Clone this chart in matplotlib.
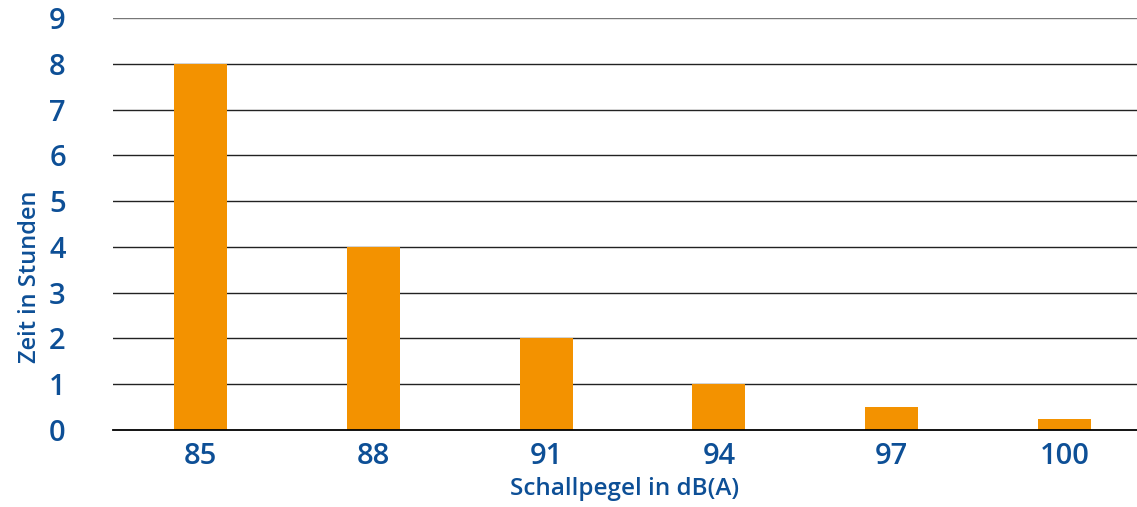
import matplotlib
matplotlib.use("Agg")
import matplotlib.pyplot as plt
import numpy as np

# Daten: zulaessige Zeit je Schallpegel
pegel = ["85", "88", "91", "94", "97", "100"]
stunden = [8, 4, 2, 1, 0.5, 0.25]
y_ticks = list(range(0, 10))

BLAU = "#0d4f96"
ORANGE = "#f39200"

plt.rcParams["font.family"] = ["Open Sans", "DejaVu Sans"]

fig = plt.figure(figsize=(11.37, 5.07), dpi=100)
ax = fig.add_axes([113 / 1137, 1 - 430 / 507, 1 - 113 / 1137, (430 - 18) / 507])

x = np.arange(len(pegel))
ax.bar(x, stunden, width=0.307, color=ORANGE, zorder=3)

ax.set_xlim(-0.506, len(pegel) - 0.58)
ax.set_ylim(0, 9)
ax.set_yticks(y_ticks)
ax.set_xticks(x)
ax.set_xticklabels(pegel)

for t in y_ticks[1:]:
    ax.axhline(t, color="#777777" if t == 9 else "#222222", lw=1.0, zorder=1)

for s in ["top", "right", "left"]:
    ax.spines[s].set_visible(False)
ax.spines["bottom"].set_color("black")
ax.spines["bottom"].set_linewidth(1.3)
ax.spines["bottom"].set_zorder(4)

ax.tick_params(axis="both", length=0, labelsize=21, labelcolor=BLAU)
ax.tick_params(axis="y", pad=34)
ax.tick_params(axis="x", pad=9)
for lab in ax.get_xticklabels() + ax.get_yticklabels():
    lab.set_fontweight("semibold")

ax.set_xlabel("Schallpegel in dB(A)", fontsize=17.5, color=BLAU, fontweight="semibold", labelpad=4)
ax.set_ylabel("Zeit in Stunden", fontsize=17, color=BLAU, fontweight="semibold")
# Beschriftung der y-Achse sitzt im Original etwas unterhalb der Mitte
ax.yaxis.set_label_coords(-0.069, 0.371)

fig.savefig("out.png", dpi=100)
